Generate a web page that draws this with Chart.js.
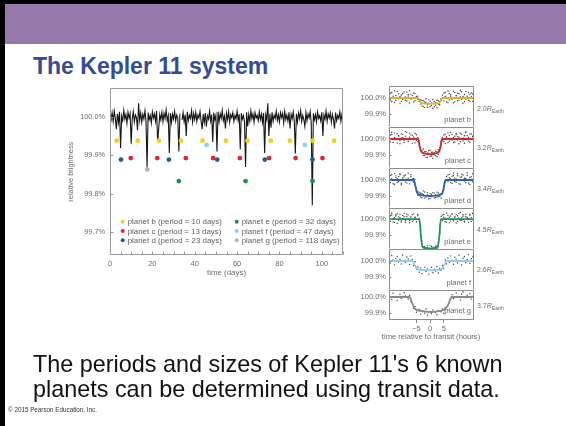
<!DOCTYPE html>
<html>
<head>
<meta charset="utf-8">
<script src="https://cdn.jsdelivr.net/npm/chart.js@4.4.1/dist/chart.umd.min.js"></script>
<style>
  body { margin: 0; width: 566px; height: 426px; position: relative; overflow: hidden; background: #fff;
         font-family: "Liberation Sans", Arial, sans-serif; }
  .abs { position: absolute; }
  #edgeL { left: 0; top: 0; width: 5px; height: 426px; background: #000; }
  #edgeT { left: 0; top: 0; width: 566px; height: 4px; background: #000; }
  #bar { left: 5px; top: 4px; width: 561px; height: 40px; background: #9479aa; }
  #title { left: 33px; top: 55px; font-weight: bold; font-size: 23px; line-height: 23px; color: #354b93; white-space: nowrap; }
  #caption { left: 33px; top: 352px; font-size: 23.4px; line-height: 25px; color: #111; white-space: nowrap; }
  #copy { left: 8px; top: 406px; font-size: 6.3px; line-height: 8px; color: #333; white-space: nowrap; }
  .rl { left: 477px; font-size: 7px; line-height: 10px; color: #6b6b6b; white-space: nowrap; }
  .rl sub { font-size: 5px; vertical-align: -2px; }
  #hours { left: 360px; top: 332px; width: 142px; text-align: center; font-size: 7.6px; line-height: 10px; color: #6b6b6b; white-space: nowrap; }
</style>
</head>
<body>
<div id="edgeL" class="abs"></div>
<div id="edgeT" class="abs"></div>
<div id="bar" class="abs"></div>
<div id="title" class="abs">The Kepler 11 system</div>

<canvas id="curve" class="abs" style="left:40px;top:79px" width="310" height="211"></canvas>

<canvas id="pb" class="abs" style="left:340px;top:86px" width="134" height="41"></canvas>
<canvas id="pc" class="abs" style="left:340px;top:127px" width="134" height="41"></canvas>
<canvas id="pd" class="abs" style="left:340px;top:168px" width="134" height="40"></canvas>
<canvas id="pe" class="abs" style="left:340px;top:208px" width="134" height="41"></canvas>
<canvas id="pf" class="abs" style="left:340px;top:249px" width="134" height="41"></canvas>
<canvas id="pg" class="abs" style="left:340px;top:290px" width="134" height="46"></canvas>

<div class="abs rl" style="top:104px">2.0<i>R</i><sub>Earth</sub></div>
<div class="abs rl" style="top:143px">3.2<i>R</i><sub>Earth</sub></div>
<div class="abs rl" style="top:184px">3.4<i>R</i><sub>Earth</sub></div>
<div class="abs rl" style="top:225px">4.5<i>R</i><sub>Earth</sub></div>
<div class="abs rl" style="top:265px">2.6<i>R</i><sub>Earth</sub></div>
<div class="abs rl" style="top:301px">3.7<i>R</i><sub>Earth</sub></div>
<div id="hours" class="abs">time relative to transit (hours)</div>

<div id="caption" class="abs">The periods and sizes of Kepler 11's 6 known<br>planets can be determined using transit data.</div>
<div id="copy" class="abs">© 2015 Pearson Education, Inc.</div>

<script>
// ---- light curve (relative brightness in %, one value every half day from day 0)
const curveStep = 0.5;
const fluxPct = [
  100.004, 99.992, 100.011, 99.988, 100.015, 99.996, 99.968, 100.008, 99.985, 100.013,
  99.919, 100.002, 99.990, 100.017, 99.994, 100.006, 99.983, 100.012, 99.997, 100.009,
  99.930, 99.995, 100.014, 99.987, 100.005, 99.998, 99.965, 100.035, 99.991, 100.010,
  99.986, 100.007, 99.995, 100.016, 99.989, 99.868, 100.011, 99.993, 100.004, 99.984,
  100.013, 99.997, 100.008, 99.988, 100.015, 99.935, 99.970, 100.006, 99.992, 100.012,
  99.987, 100.009, 99.996, 100.018, 99.990, 100.003, 99.906, 100.010, 99.985, 100.007,
  99.994, 100.014, 99.989, 100.005, 99.998, 99.910, 100.008, null, 99.992, 100.011,
  99.987, 100.006, 99.950, 100.013, 99.991, 100.004, 99.996, 100.016, 99.986, 100.009,
  99.993, 100.012, 99.988, 100.005, 99.997, 100.014, 99.990, 99.968, 100.007, 99.985,
  100.010, 99.975, 100.003, 99.994, 100.015, 99.989, 100.006, 99.935, 100.011, 99.992,
  100.004, 99.910, 100.013, 99.987, 100.008, 99.996, 100.017, 99.990, 100.002, 99.970,
  100.009, 99.993, 100.014, 99.986, 100.006, 99.998, 100.011, 99.988, 100.004, 99.995,
  100.015, 99.991, 100.007, 99.915, 100.010, 99.994, 100.003, 99.987, 99.870, 100.012,
  99.975, 100.006, 99.989, 100.016, 99.995, 100.008, 99.986, 100.011, 99.997, 100.004,
  99.990, 100.013, 99.993, 100.007, 99.985, 100.010, 99.906, 100.005, 99.992, 100.035,
  99.950, 100.008, 99.972, 100.012, 99.988, 100.004, 99.996, 100.015, 99.991, 100.006,
  99.987, 100.011, 99.998, 100.009, 99.984, 100.014, 99.993, 100.005, 99.989, 100.012,
  99.970, 100.007, 99.995, 100.013, 99.990, 99.905, 100.008, 99.986, 100.010, 99.996,
  100.016, 99.988, 100.004, 99.993, 99.975, 100.011, 99.990, 100.007, 99.997, 100.014,
  99.985, 99.770, 100.009, 99.992, 100.006, 99.987, 100.013, 99.996, 100.003, 99.989,
  100.012, 99.950, 100.005, 99.994, 100.015, 99.988, 100.008, 99.997, 100.010, 99.986,
  100.006, 99.993, 99.970, 100.011, 99.990, 100.004, 99.996, 100.013, 99.988, 100.007,
  99.995
];

// ---- transit markers (days) and their marker level (%)
const bDays = [3.2, 13.1, 23.1, 33.5, 43.7, 54.7, 64.9, 75.9, 84.9, 95.6, 105.8];
const cDays = [9.8, 22.3, 35.8, 48.7, 61.3, 75.1, 87.6, 100.3];
const dDays = [5.2, 27.8, 50.6, 73.1, 95.6];
const eDays = [32.5, 64.0, 95.6];
const fDays = [45.6, 92.0];
const gDays = [17.6];
const markLevels = [99.938, 99.893, 99.889, 99.833, 99.927, 99.863]; // b c d e f g
const planetNames = ['b', 'c', 'd', 'e', 'f', 'g'];
const periods = [10, 13, 23, 32, 47, 118];
const planetColors = ['#f6cd17', '#e8232e', '#1a5ba6', '#14964a', '#8ad0f0', '#b5b5b5'];

const curveTicksY = [99.7, 99.8, 99.9, 100.0];

// ---- transit panels: hours relative to mid-transit
const dotHours = [-15,-14.5,-14,-13.5,-13,-12.5,-12,-11.5,-11,-10.5,-10,-9.5,-9,-8.5,-8,-7.5,-7,-6.5,-6,-5.5,-5,-4.5,-4,-3.5,-3,-2.5,-2,-1.5,-1,-0.5,0,0.5,1,1.5,2,2.5,3,3.5,4,4.5,5,5.5,6,6.5,7,7.5,8,8.5,9,9.5,10,10.5,11,11.5,12,12.5,13,13.5,14,14.5,15,15.5,16];

const bDots = [100.021,99.988,100.034,100.005,99.972,100.016,100.041,99.995,100.010,99.979,100.028,100.002,99.986,100.037,100.013,99.969,100.024,99.998,100.031,99.983,100.009,
  99.992,99.978,99.990,
  99.951,99.982,99.940,99.973,99.958,99.990,99.945,99.969,99.936,99.978,99.955,99.986,99.962,
  99.979,99.995,
  100.018,99.982,100.036,100.004,99.971,100.027,100.011,99.990,100.043,99.976,100.015,100.030,99.987,100.006,100.039,99.968,100.022,99.994,100.012,100.033,99.980,100.008,100.025,99.991];
const bDots2 = [99.994,100.030,99.978,100.012,100.045,99.986,100.003,100.026,99.965,100.019,99.991,100.038,100.007,99.981,100.022,100.047,99.993,100.015,99.975,100.029,100.001,
  100.012,99.990,99.962,
  99.984,99.948,99.975,99.995,99.942,99.967,99.980,99.953,99.991,99.946,99.971,99.939,99.983,
  99.958,99.986,
  99.997,100.031,100.009,99.975,100.044,99.988,100.020,100.002,99.970,100.035,100.014,99.983,100.027,100.048,99.992,100.010,99.977,100.040,100.005,99.986,100.023,100.032,99.979,100.016];

const cDots = [100.015,99.982,100.028,99.996,100.037,100.004,99.975,100.021,99.990,100.032,100.008,99.979,100.018,100.040,99.987,100.011,100.026,99.973,100.003,100.034,99.992,
  99.985,99.962,99.948,
  99.915,99.938,99.897,99.922,99.886,99.911,99.930,99.894,99.918,99.902,99.925,99.890,99.934,
  99.921,99.983,
  100.012,99.984,100.030,100.006,99.977,100.024,100.041,99.993,100.010,99.981,100.027,100.015,99.970,100.036,100.002,99.988,100.020,100.044,99.996,100.009,99.980,100.031,100.017,99.990];
const cDots2 = [99.989,100.024,100.042,99.978,100.010,99.995,100.033,100.019,99.970,100.006,100.029,99.992,100.046,100.001,99.983,100.037,99.998,100.023,100.013,99.976,100.027,
  100.008,99.979,99.931,
  99.930,99.899,99.921,99.884,99.912,99.927,99.891,99.917,99.880,99.914,99.896,99.923,99.905,
  99.948,99.966,
  99.991,100.025,99.972,100.014,100.039,99.986,100.003,100.028,99.978,100.018,100.035,99.994,100.011,99.983,100.030,100.007,99.974,100.043,100.021,99.987,100.032,99.999,100.016,100.038];

const dDots = [100.017,99.984,100.033,100.002,99.973,100.026,100.010,99.991,100.038,99.980,100.013,100.029,99.987,100.005,100.042,99.976,100.020,99.995,
  100.009,99.982,99.952,
  99.928,99.901,99.917,99.889,99.910,99.925,99.894,99.906,99.882,99.915,99.897,99.921,99.888,99.908,99.893,99.919,99.899,99.913,99.926,
  99.938,99.985,
  100.022,99.990,100.035,100.007,99.978,100.028,100.012,99.986,100.040,100.001,99.974,100.019,100.031,99.993,100.009,100.045,99.981,100.016,100.003,99.988,100.026];
const dDots2 = [99.993,100.028,100.008,99.977,100.040,100.015,99.986,100.022,100.036,99.970,100.004,100.019,100.031,99.982,100.011,99.996,100.034,100.006,
  99.986,100.004,99.931,
  99.905,99.922,99.893,99.914,99.932,99.887,99.903,99.920,99.897,99.884,99.911,99.902,99.918,99.890,99.924,99.896,99.909,99.886,99.915,
  99.962,99.994,
  99.997,100.032,100.013,99.984,100.024,100.043,99.991,100.006,100.027,99.976,100.018,100.037,99.998,100.011,99.983,100.029,100.002,99.972,100.021,100.039,99.994];

const eDots = [100.012,99.985,100.026,100.003,99.978,100.019,100.034,99.992,100.008,99.981,100.023,100.015,99.989,100.030,100.001,99.976,100.017,100.028,99.994,100.010,99.983,100.021,100.005,
  99.952,99.861,
  99.824,99.798,99.815,99.830,99.802,99.812,99.826,99.799,99.818,99.806,99.829,
  99.848,99.912,
  100.018,99.990,100.029,100.006,99.980,100.024,100.011,99.987,100.033,99.997,100.014,99.975,100.021,100.036,99.992,100.008,100.027,99.984,100.016,100.002,99.979,100.031,100.009,99.995,100.023];
const eDots2 = [99.994,100.021,100.038,99.982,100.009,100.027,99.973,100.014,100.031,99.988,100.004,100.036,99.979,100.016,100.025,99.991,100.007,99.985,100.033,100.012,99.997,100.029,99.987,
  99.931,99.842,
  99.808,99.825,99.795,99.819,99.811,99.833,99.804,99.822,99.809,99.827,99.815,
  99.829,99.958,
  99.996,100.025,100.011,99.983,100.037,100.004,99.977,100.020,100.032,99.989,100.013,100.028,99.986,100.007,100.041,99.993,100.018,99.981,100.030,100.010,99.998,100.024,99.985,100.035,100.003];

const fDots = [100.021,99.987,100.034,100.006,99.976,100.015,100.029,99.994,100.011,99.982,100.038,100.003,99.990,100.025,100.013,99.979,100.031,
  100.008,99.972,99.995,99.948,99.963,
  99.930,99.957,99.921,99.946,99.962,99.935,99.951,99.918,99.944,99.960,99.927,99.949,99.938,99.966,99.925,99.953,99.940,
  99.972,99.951,100.006,99.982,
  100.019,99.993,100.032,100.005,99.980,100.024,100.012,99.988,100.036,100.001,99.975,100.017,100.028,99.991,100.009,100.040,99.984,100.014,100.026,99.997];

const gDots = [100.012,null,99.985,100.024,null,100.003,99.979,null,100.018,99.992,null,100.027,100.006,null,99.988,
  100.010,99.972,null,99.930,99.941,
  99.905,null,99.922,99.893,99.914,null,99.899,99.925,99.887,null,99.910,99.896,99.919,null,99.902,99.889,99.916,null,99.908,99.925,99.898,
  99.935,null,99.918,99.962,99.986,100.014,
  99.991,null,100.025,100.004,null,99.982,100.019,100.031,null,99.996,100.011,null,100.022,99.987,null,100.008];

// fitted transit models (hours, %)
const bModelH = [-15, -4.5, -3.8, -3.2, 0, 3.3, 3.9, 4.6, 16];
const bModelF = [100, 100, 99.985, 99.968, 99.964, 99.968, 99.985, 100, 100];
const cModelH = [-15, -4.3, -3.8, -3.2, -2, 0, 2, 3.2, 3.8, 4.3, 16];
const cModelF = [100, 100, 99.95, 99.922, 99.91, 99.905, 99.91, 99.922, 99.95, 100, 100];
const dModelH = [-15, -6, -5.3, -4.6, -2.5, 0, 2.5, 4.4, 5, 5.6, 16];
const dModelF = [100, 100, 99.955, 99.915, 99.903, 99.9, 99.903, 99.915, 99.955, 100, 100];
const eModelH = [-15, -3.9, -3.4, -2.8, 0, 2.8, 3.4, 3.9, 16];
const eModelF = [100, 100, 99.9, 99.822, 99.814, 99.822, 99.9, 100, 100];
const fModelH = [-15, -6.5, -5.5, -4.5, 0, 4, 5, 6, 16];
const fModelF = [100, 100, 99.97, 99.947, 99.942, 99.947, 99.97, 100, 100];
const gModelH = [-15, -7.5, -6.5, -5.5, -3, 0, 3, 5.5, 6.8, 7.8, 16];
const gModelF = [100, 100, 99.96, 99.925, 99.912, 99.905, 99.912, 99.925, 99.96, 100, 100];

const panelTicksY = [99.9, 100.0];
const panelTicksX = [-5, 0, 5];

Chart.defaults.font.family = '"Liberation Sans", Arial, sans-serif';
Chart.defaults.color = '#6b6b6b';

// frame, inward ticks and in-plot text
const boxPlugin = {
  id: 'box',
  afterDatasetsDraw(chart, args, o) {
    const { ctx, chartArea: a, scales } = chart;
    const L = Math.round(a.left) + 0.5, R = Math.round(a.right) - 0.5;
    const T = Math.round(a.top) + 0.5, B = Math.round(a.bottom) - 0.5;
    ctx.save();
    ctx.strokeStyle = o.color;
    ctx.lineWidth = 1;
    ctx.beginPath();
    ctx.moveTo(L, B); ctx.lineTo(L, T); ctx.lineTo(R, T); ctx.lineTo(R, B);
    if (o.bottom) { ctx.moveTo(L, B); ctx.lineTo(R, B); }
    scales.y.ticks.forEach(t => {
      const y = Math.round(scales.y.getPixelForValue(t.value)) + 0.5;
      ctx.moveTo(L, y); ctx.lineTo(L + o.tick, y);
    });
    if (o.xTicks) {
      scales.x.ticks.forEach(t => {
        const x = Math.round(scales.x.getPixelForValue(t.value)) + 0.5;
        ctx.moveTo(x, B); ctx.lineTo(x, B - o.tick);
      });
    }
    ctx.stroke();

    if (o.label) {
      ctx.fillStyle = '#6b6b6b';
      ctx.font = '7.5px "Liberation Sans", Arial, sans-serif';
      ctx.textAlign = 'right';
      ctx.textBaseline = 'middle';
      ctx.fillText(o.label, a.right - 3, a.bottom - o.labelUp);
    }

    if (o.legend) {
      ctx.font = '7.9px "Liberation Sans", Arial, sans-serif';
      ctx.textAlign = 'left';
      ctx.textBaseline = 'middle';
      planetNames.forEach((p, i) => {
        const x = o.legend.cols[Math.floor(i / 3)];
        const y = o.legend.rows[i % 3];
        ctx.fillStyle = planetColors[i];
        ctx.beginPath();
        ctx.arc(x, y, 2, 0, Math.PI * 2);
        ctx.fill();
        ctx.fillStyle = '#5e5e5e';
        ctx.fillText('planet ' + p + ' (period = ' + periods[i] + ' days)', x + 5, y + 0.5);
      });
    }
    ctx.restore();
  }
};

// ---- main light curve chart
const dayLists = [bDays, cDays, dDays, eDays, fDays, gDays];
const markerSets = dayLists.map((days, i) => ({
  data: days.map(d => ({ x: d, y: markLevels[i] })),
  backgroundColor: planetColors[i],
  borderWidth: 0,
  pointRadius: 2.4,
  order: 1
}));

const curveSet = {
  data: fluxPct.map((v, i) => ({ x: i * curveStep, y: v })),
  showLine: true,
  borderColor: '#161616',
  borderWidth: 1.1,
  pointRadius: 0,
  spanGaps: false,
  order: 2
};

new Chart(document.getElementById('curve'), {
  type: 'scatter',
  data: { datasets: [...markerSets, curveSet] },
  options: {
    responsive: false,
    animation: false,
    layout: { padding: { top: 7, right: 7, left: 0, bottom: 0 } },
    plugins: {
      legend: { display: false },
      tooltip: { enabled: false },
      box: { color: '#9a9a9a', tick: 3, xTicks: true, bottom: true,
             legend: { cols: [122.7 - 40, 236.7 - 40], rows: [221.7 - 79, 231 - 79, 240.3 - 79] } }
    },
    scales: {
      x: {
        type: 'linear', min: 0, max: 110,
        grid: { display: false, drawTicks: false },
        border: { display: false },
        ticks: {
          stepSize: 5, autoSkip: false, maxRotation: 0, padding: 4,
          font: { size: 7.5 }, color: '#6b6b6b',
          callback: v => (v % 20 === 0 ? v : '')
        },
        title: { display: true, text: 'time (days)', font: { size: 7.9 }, color: '#6b6b6b', padding: { top: 0, bottom: 12 } },
        afterFit: s => { s.height = 35; }
      },
      y: {
        type: 'linear', min: 99.641, max: 100.074,
        grid: { display: false, drawTicks: false },
        border: { display: false },
        afterBuildTicks: s => { s.ticks = curveTicksY.map(v => ({ value: v })); },
        ticks: { padding: 5, font: { size: 7.3 }, color: '#6b6b6b', callback: v => v.toFixed(1) + '%' },
        title: { display: true, text: 'relative brightness', font: { size: 7.4 }, color: '#6b6b6b', padding: { top: 27, bottom: 0 } },
        afterFit: s => { s.width = 70; }
      }
    }
  },
  plugins: [boxPlugin]
});

// ---- transit panels
function makePanel(id, name, dots, dots2, modelH, modelF, lineColor, yMin, yMax, isLast) {
  const sets = [{
    data: modelH.map((h, i) => ({ x: h, y: modelF[i] })),
    showLine: true, borderColor: lineColor, borderWidth: 1.8, pointRadius: 0,
    cubicInterpolationMode: 'monotone', order: 0
  }];
  [dots, dots2].forEach(arr => {
    if (!arr) return;
    sets.push({
      data: arr.map((v, i) => ({ x: dotHours[i], y: v })),
      backgroundColor: '#3c3c3c', borderWidth: 0, pointRadius: 0.7, order: 1
    });
  });

  new Chart(document.getElementById(id), {
    type: 'scatter',
    data: { datasets: sets },
    options: {
      responsive: false,
      animation: false,
      layout: { padding: 0, autoPadding: false },
      plugins: {
        legend: { display: false },
        tooltip: { enabled: false },
        box: { color: '#8c8c8c', tick: 2, xTicks: false, bottom: isLast, label: 'planet ' + name, labelUp: isLast ? 9 : 7 }
      },
      scales: {
        x: {
          type: 'linear', min: -15, max: 16, display: isLast,
          grid: { display: true, drawOnChartArea: false, drawTicks: true, tickLength: 3, color: '#8c8c8c' },
          border: { display: false },
          afterBuildTicks: s => { s.ticks = panelTicksX.map(v => ({ value: v })); },
          ticks: { padding: 1, maxRotation: 0, font: { size: 7.5 }, color: '#6b6b6b',
                   callback: v => (v < 0 ? '\u2212' + Math.abs(v) : '' + v) },
          afterFit: s => { s.height = isLast ? 16 : 0; s.paddingLeft = 0; s.paddingRight = 0; }
        },
        y: {
          type: 'linear', min: yMin, max: yMax,
          grid: { display: false, drawTicks: false },
          border: { display: false },
          afterBuildTicks: s => { s.ticks = panelTicksY.map(v => ({ value: v })); },
          ticks: { padding: 3, font: { size: 7.5 }, color: '#6b6b6b', callback: v => v.toFixed(1) + '%' },
          afterFit: s => { s.width = 49; s.paddingTop = 0; s.paddingBottom = 0; }
        }
      }
    },
    plugins: [boxPlugin]
  });
}

makePanel('pb', 'b', bDots, bDots2, bModelH, bModelF, '#e0b32a', 99.819, 100.075, false);
makePanel('pc', 'c', cDots, cDots2, cModelH, cModelF, '#d8262f', 99.819, 100.075, false);
makePanel('pd', 'd', dDots, dDots2, dModelH, dModelF, '#2a62ab', 99.825, 100.075, false);
makePanel('pe', 'e', eDots, eDots2, eModelH, eModelF, '#1d9a4e', 99.810, 100.070, false);
makePanel('pf', 'f', fDots, null, fModelH, fModelF, '#93cdea', 99.819, 100.075, false);
makePanel('pg', 'g', gDots, null, gModelH, gModelF, '#8a8a8a', 99.856, 100.044, true);
</script>
</body>
</html>
